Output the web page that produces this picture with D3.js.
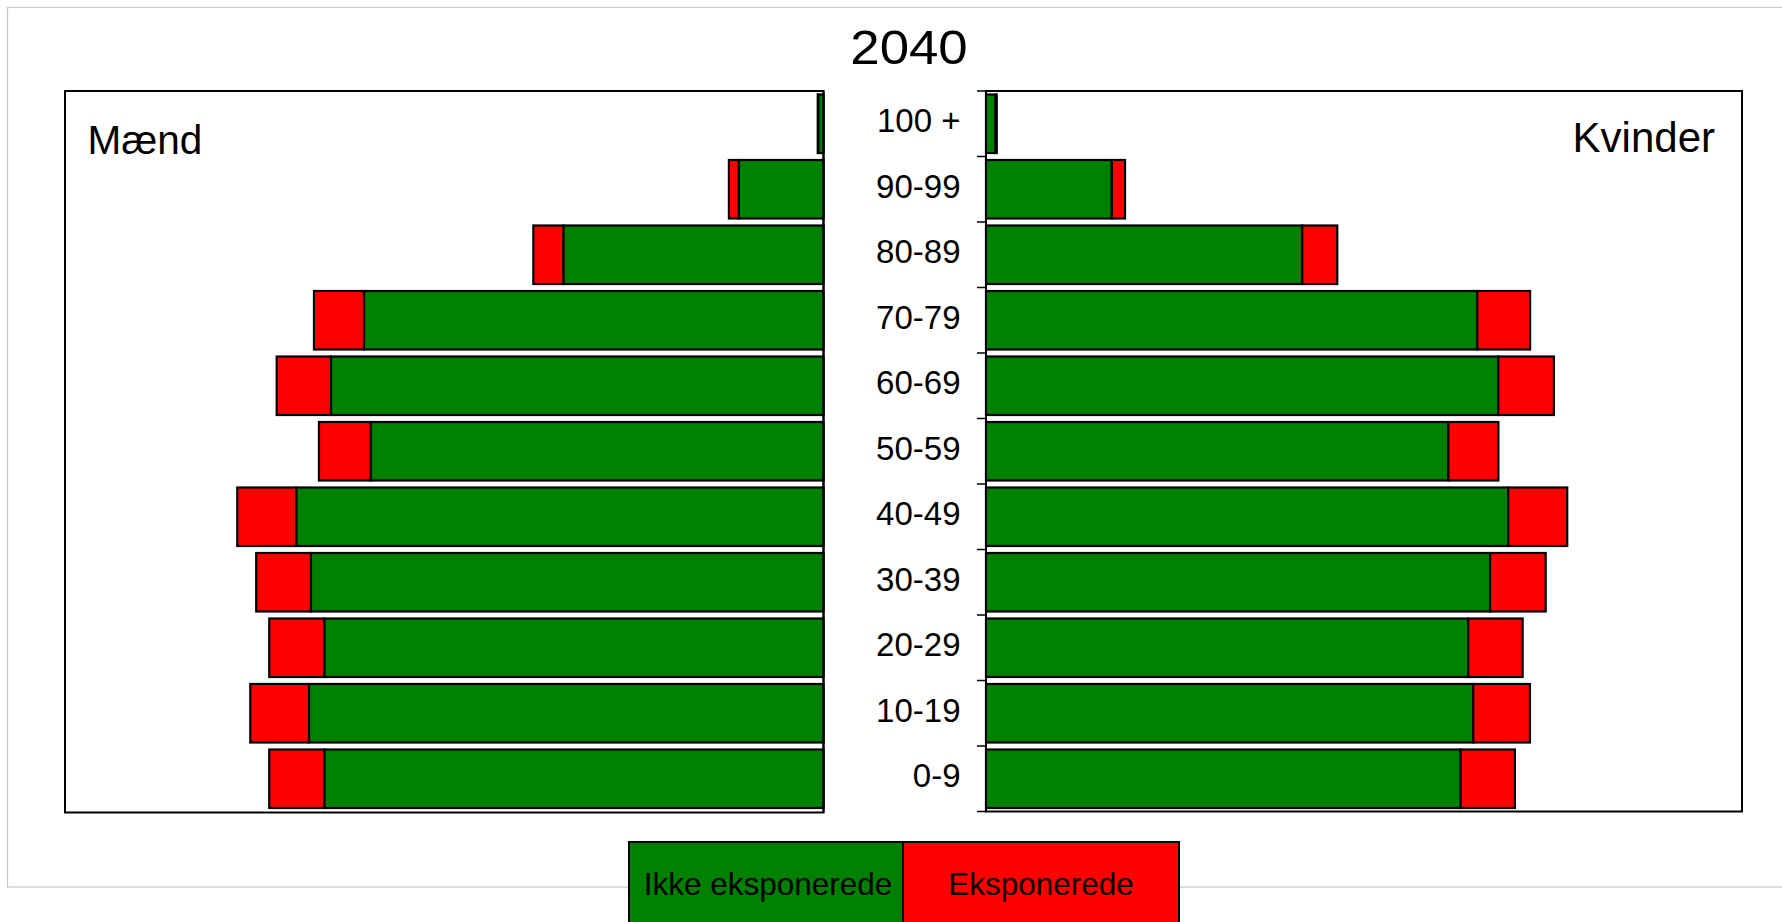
<!DOCTYPE html>
<html>
<head>
<meta charset="utf-8">
<script src="https://cdn.jsdelivr.net/npm/d3@7"></script>
<style>
  html, body { margin: 0; padding: 0; background: #ffffff; }
  svg { display: block; }
  text { font-family: "Liberation Sans", Arial, sans-serif; fill: #000; }
</style>
</head>
<body>
<svg id="chart" width="1782" height="922"></svg>
<script>
// ---------------- data (thousands of persons) ----------------
const title = "2040";
const ageGroups = ["100 +", "90-99", "80-89", "70-79", "60-69", "50-59", "40-49", "30-39", "20-29", "10-19", "0-9"];
const menNotExposed   = [3.5, 55.9, 171.6, 303.1, 324.9, 298.7, 347.8, 338.1, 329.3, 339.4, 329.3];
const menExposed      = [0.3,  6.5,  19.8,  33.0,  35.8,  34.1,  38.9,  36.1,  36.3,  38.7,  36.3];
const womenNotExposed = [6.3, 83.0, 208.6, 324.1, 337.9, 305.0, 344.5, 332.5, 318.1, 321.4, 313.1];
const womenExposed    = [0.8,  8.7,  23.1,  34.8,  36.7,  33.0,  38.9,  36.7,  35.9,  37.4,  35.8];
const seriesNames = ["Ikke eksponerede", "Eksponerede"];
const seriesColors = ["#008000", "#ff0000"];
const panelNames = ["Mænd", "Kvinder"];
const valueMax = 500;

(function draw() {
// ---------------- layout ----------------
const svg = d3.select("#chart");
const FONT = '"Liberation Sans", Arial, sans-serif';

const leftPanel  = { x0: 65,  x1: 823.5 };
const rightPanel = { x0: 986, x1: 1742 };
const topY = 91, bottomY = 811.5;

const y = d3.scaleBand().domain(ageGroups).range([topY, bottomY]).paddingInner(0).paddingOuter(0);
const x = d3.scaleLinear().domain([0, valueMax]).range([0, 758]);

// outer light frame
svg.append("rect")
  .attr("x", 7.5).attr("y", 7.5).attr("width", 1800).attr("height", 879.5)
  .attr("fill", "none").attr("stroke", "#c8c8c8").attr("stroke-width", 1.2);

// title
svg.append("text")
  .attr("transform", "translate(909,64) scale(1.1,1)")
  .attr("text-anchor", "middle")
  .style("font-size", "48px")
  .text(title);

// panels
svg.append("rect")
  .attr("x", leftPanel.x0).attr("y", topY)
  .attr("width", leftPanel.x1 - leftPanel.x0).attr("height", bottomY + 1 - topY)
  .attr("fill", "#fff").attr("stroke", "#000").attr("stroke-width", 2);
svg.append("rect")
  .attr("x", rightPanel.x0).attr("y", topY)
  .attr("width", rightPanel.x1 - rightPanel.x0).attr("height", bottomY - topY)
  .attr("fill", "#fff").attr("stroke", "#000").attr("stroke-width", 2);

// stacked data
const menData = ageGroups.map((a, i) => ({ age: a, g: menNotExposed[i], r: menExposed[i] }));
const womenData = ageGroups.map((a, i) => ({ age: a, g: womenNotExposed[i], r: womenExposed[i] }));

const barPad = 3.5;
const bh = y.bandwidth() - 2 * barPad;

// men (bars grow leftwards from the centre)
const gMen = svg.append("g");
gMen.selectAll("rect.g").data(menData).join("rect").attr("class", "g")
  .attr("x", d => leftPanel.x1 - x(d.g)).attr("y", d => y(d.age) + barPad)
  .attr("width", d => x(d.g)).attr("height", bh)
  .attr("fill", seriesColors[0]).attr("stroke", "#000").attr("stroke-width", 2.2);
gMen.selectAll("rect.r").data(menData).join("rect").attr("class", "r")
  .attr("x", d => leftPanel.x1 - x(d.g + d.r)).attr("y", d => y(d.age) + barPad)
  .attr("width", d => x(d.r)).attr("height", bh)
  .attr("fill", seriesColors[1]).attr("stroke", "#000").attr("stroke-width", 2.2);

// women (bars grow rightwards)
const gWomen = svg.append("g");
gWomen.selectAll("rect.g").data(womenData).join("rect").attr("class", "g")
  .attr("x", rightPanel.x0).attr("y", d => y(d.age) + barPad)
  .attr("width", d => x(d.g)).attr("height", bh)
  .attr("fill", seriesColors[0]).attr("stroke", "#000").attr("stroke-width", 2.2);
gWomen.selectAll("rect.r").data(womenData).join("rect").attr("class", "r")
  .attr("x", d => rightPanel.x0 + x(d.g)).attr("y", d => y(d.age) + barPad)
  .attr("width", d => x(d.r)).attr("height", bh)
  .attr("fill", seriesColors[1]).attr("stroke", "#000").attr("stroke-width", 2.2);

// central axis lines
svg.append("line").attr("x1", leftPanel.x1).attr("x2", leftPanel.x1)
  .attr("y1", topY).attr("y2", bottomY + 1).attr("stroke", "#000").attr("stroke-width", 2);
svg.append("line").attr("x1", rightPanel.x0).attr("x2", rightPanel.x0)
  .attr("y1", topY).attr("y2", bottomY).attr("stroke", "#000").attr("stroke-width", 2);

// boundary ticks on the women's axis
const bounds = ageGroups.map(a => y(a)).concat([bottomY]);
svg.append("g").selectAll("line").data(bounds).join("line")
  .attr("x1", rightPanel.x0 - 9).attr("x2", rightPanel.x0)
  .attr("y1", d => d).attr("y2", d => d)
  .attr("stroke", "#000").attr("stroke-width", 1.5);

// age labels via d3 axis
const axis = svg.append("g")
  .attr("transform", "translate(960.5,0)")
  .call(d3.axisLeft(y).tickSize(0).tickPadding(0));
axis.select(".domain").remove();
axis.selectAll("text")
  .attr("dy", "0.26em")
  .style("font-size", "33px")
  .style("font-family", FONT)
  .attr("fill", "#000");

// panel labels
svg.append("text").attr("x", 87.5).attr("y", 154)
  .style("font-size", "40.5px").text(panelNames[0]);
svg.append("text").attr("x", 1715).attr("y", 152)
  .attr("text-anchor", "end").style("font-size", "42px").text(panelNames[1]);

// legend
const legX = [629, 903, 1179];
const legG = svg.append("g");
legG.selectAll("rect").data(seriesNames).join("rect")
  .attr("x", (d, i) => legX[i]).attr("y", 842)
  .attr("width", (d, i) => legX[i + 1] - legX[i]).attr("height", 100)
  .attr("fill", (d, i) => seriesColors[i]).attr("stroke", "#000").attr("stroke-width", 2);
legG.selectAll("text").data(seriesNames).join("text")
  .attr("x", (d, i) => (legX[i] + legX[i + 1]) / 2 + (i === 0 ? 2 : 0)).attr("y", 895)
  .attr("text-anchor", "middle").style("font-size", "31.5px").text(d => d);
})();
</script>
</body>
</html>
